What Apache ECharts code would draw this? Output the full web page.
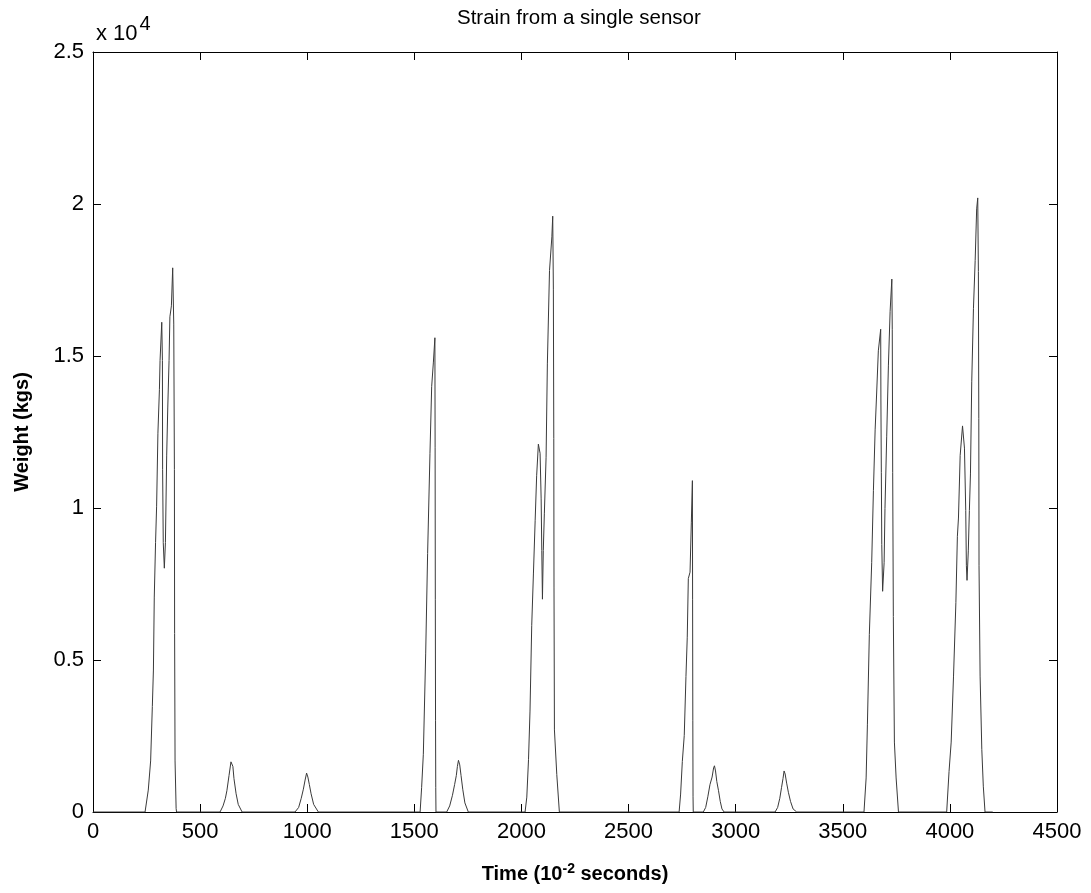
<!DOCTYPE html>
<html>
<head>
<meta charset="utf-8">
<script src="https://cdn.jsdelivr.net/npm/echarts@6/dist/echarts.min.js"></script>
<style>
html,body{margin:0;padding:0;background:#fff;}
#chart{width:1091px;height:893px;}
</style>
</head>
<body>
<div id="chart"></div>
<script>
// ---- Data (time in 10^-2 s, weight in kg) ----
var xTicks = [0, 500, 1000, 1500, 2000, 2500, 3000, 3500, 4000, 4500];
var yTickLabels = ['0', '0.5', '1', '1.5', '2', '2.5'];

var event1Time   = [243, 258, 269, 277, 282, 286, 292, 297, 303, 310, 313, 321, 324, 325, 328, 333, 338, 344, 349, 355, 359, 366, 372, 377, 380, 381, 383, 388, 390];
var event1Weight = [0, 720, 1680, 3470, 4670, 7070, 8860, 10060, 12460, 13890, 14850, 16110, 14850, 11260, 8860, 8020, 8860, 11740, 13290, 14850, 16290, 16650, 17900, 16050, 11260, 5870, 1680, 120, 0];

var event2Time   = [593, 607, 618, 625, 635, 644, 649, 653, 658, 668, 678, 696];
var event2Weight = [0, 200, 450, 700, 1200, 1650, 1600, 1500, 1100, 600, 250, 0];

var event3Time   = [943, 960, 972, 982, 990, 997, 1003, 1010, 1018, 1030, 1052];
var event3Weight = [0, 150, 450, 750, 1050, 1280, 1150, 900, 600, 250, 0];

var event4Time   = [1527, 1534, 1542, 1553, 1562, 1573, 1581, 1589, 1596, 1597, 1598, 1599, 1600, 1601];
var event4Weight = [0, 800, 1900, 5200, 8500, 11800, 14000, 14800, 15600, 12000, 7000, 3000, 800, 0];

var event5Time   = [1651, 1665, 1678, 1688, 1696, 1701, 1706, 1712, 1718, 1726, 1736, 1752];
var event5Weight = [0, 200, 550, 900, 1200, 1500, 1700, 1550, 1200, 750, 300, 0];

var event6Time   = [2017, 2025, 2033, 2040, 2048, 2056, 2064, 2071, 2079, 2087, 2092, 2095, 2098, 2102, 2107, 2115, 2121, 2131, 2142, 2146, 2149, 2151, 2152, 2154, 2165, 2177];
var event6Weight = [0, 490, 1720, 3320, 6140, 7860, 9580, 11060, 12100, 11800, 10300, 8600, 7000, 8600, 9830, 11670, 14740, 17810, 18920, 19600, 17200, 12290, 7370, 2700, 1230, 0];

var event7Time   = [2736, 2743, 2751, 2760, 2768, 2774, 2779, 2787, 2793, 2798, 2799, 2800, 2801, 2802];
var event7Weight = [0, 590, 1660, 2520, 4460, 5750, 7680, 7890, 9510, 10900, 7000, 3000, 500, 0];

var event8Time   = [2849, 2860, 2870, 2880, 2890, 2897, 2901, 2906, 2912, 2920, 2928, 2936, 2946];
var event8Weight = [0, 150, 500, 900, 1150, 1450, 1520, 1350, 1000, 700, 350, 100, 0];

var event9Time   = [3184, 3196, 3206, 3214, 3221, 3226, 3231, 3238, 3246, 3256, 3268, 3285];
var event9Weight = [0, 150, 450, 800, 1100, 1350, 1250, 950, 650, 350, 100, 0];

var event10Time   = [3599, 3609, 3615, 3624, 3635, 3643, 3651, 3658, 3666, 3677, 3678, 3680, 3682, 3686, 3693, 3697, 3705, 3713, 3721, 3729, 3731, 3733, 3736, 3741, 3749, 3760];
var event10Weight = [0, 1120, 2890, 5840, 8200, 10570, 12570, 13750, 15170, 15880, 13520, 11160, 8800, 7260, 8200, 9980, 12340, 14700, 16470, 17530, 15880, 11160, 6430, 2300, 1120, 0];

var event11Time   = [3985, 3996, 4006, 4017, 4028, 4035, 4040, 4048, 4059, 4068, 4074, 4077, 4080, 4086, 4091, 4096, 4102, 4110, 4118, 4125, 4130, 4133, 4135, 4136, 4141, 4149, 4156, 4164];
var event11Weight = [0, 1330, 2300, 4470, 6890, 9070, 9670, 11730, 12700, 11970, 9920, 8100, 7620, 8590, 9920, 11120, 14150, 16570, 18140, 19840, 20200, 17780, 12940, 8100, 4470, 2060, 850, 0];

var recordStart = 0;
var recordEnd = 4200;

// ---- Build series points ----
var eventTimes = [event1Time, event2Time, event3Time, event4Time, event5Time, event6Time, event7Time, event8Time, event9Time, event10Time, event11Time];
var eventWeights = [event1Weight, event2Weight, event3Weight, event4Weight, event5Weight, event6Weight, event7Weight, event8Weight, event9Weight, event10Weight, event11Weight];
var points = [[recordStart, 0]];
for (var e = 0; e < eventTimes.length; e++) {
  for (var i = 0; i < eventTimes[e].length; i++) {
    points.push([eventTimes[e][i], eventWeights[e][i]]);
  }
}
points.push([recordEnd, 0]);

var FONT = 'Liberation Sans, Arial, Helvetica, sans-serif';
var chart = echarts.init(document.getElementById('chart'), null, {renderer: 'canvas'});

var axisLineStyle = {show: true, onZero: false, lineStyle: {color: '#000', width: 1}};
var tickStyle = {show: true, inside: true, length: 8, lineStyle: {color: '#000', width: 1}};

chart.setOption({
  backgroundColor: '#fff',
  animation: false,
  title: {
    text: 'Strain from a single sensor',
    left: 452,
    top: 3,
    textStyle: {fontFamily: FONT, fontSize: 20.5, fontWeight: 'normal', color: '#000'}
  },
  grid: {left: 93, right: 34, top: 52, bottom: 81, containLabel: false},
  xAxis: [
    {
      type: 'value', position: 'bottom', min: 0, max: 4500, interval: 500,
      axisLine: axisLineStyle, axisTick: tickStyle, splitLine: {show: false},
      axisLabel: {
        show: true, margin: 9, color: '#000', fontFamily: FONT, fontSize: 22,
        formatter: function (v) { return xTicks.indexOf(v) >= 0 ? String(v) : ''; }
      },
      name: 'Time (10{sup|-2} seconds)',
      nameLocation: 'middle', nameGap: 50,
      nameTextStyle: {
        fontFamily: FONT, fontSize: 20, fontWeight: 'bold', color: '#000',
        rich: {sup: {fontFamily: FONT, fontSize: 14, fontWeight: 'bold', color: '#000', padding: [0, 0, 10, 0]}}
      }
    },
    {
      type: 'value', position: 'top', min: 0, max: 4500, interval: 500,
      axisLine: axisLineStyle, axisTick: tickStyle, splitLine: {show: false},
      axisLabel: {show: false}
    }
  ],
  yAxis: [
    {
      type: 'value', position: 'left', min: 0, max: 25000, interval: 5000,
      axisLine: axisLineStyle, axisTick: tickStyle, splitLine: {show: false},
      axisLabel: {
        show: true, margin: 9, color: '#000', fontFamily: FONT, fontSize: 22,
        formatter: function (v) { return yTickLabels[Math.round(v / 5000)]; }
      },
      name: 'Weight (kgs)',
      nameLocation: 'middle', nameGap: 61, nameRotate: 90,
      nameTextStyle: {fontFamily: FONT, fontSize: 20, fontWeight: 'bold', color: '#000'}
    },
    {
      type: 'value', position: 'right', min: 0, max: 25000, interval: 5000,
      axisLine: axisLineStyle, axisTick: tickStyle, splitLine: {show: false},
      axisLabel: {show: false}
    }
  ],
  graphic: [
    {
      type: 'text', left: 96, top: 14,
      style: {
        text: 'x 10{sup|4}',
        font: '22px ' + FONT,
        fill: '#000',
        rich: {sup: {fontFamily: FONT, fontSize: 20, fill: '#000', padding: [0, 0, 20, 2]}}
      }
    }
  ],
  series: [
    {
      type: 'line', xAxisIndex: 0, yAxisIndex: 0,
      data: points, showSymbol: false, symbol: 'none',
      lineStyle: {color: '#3a3a3a', width: 1},
      clip: true
    }
  ]
});
</script>
</body>
</html>
